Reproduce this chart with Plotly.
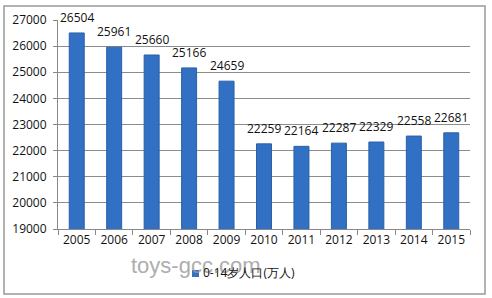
import plotly.graph_objects as go

years = ["2005", "2006", "2007", "2008", "2009", "2010", "2011", "2012", "2013", "2014", "2015"]
population = [26504, 25961, 25660, 25166, 24659, 22259, 22164, 22287, 22329, 22558, 22681]
series_name = "0-14岁人口(万人)"
y_ticks = [19000, 20000, 21000, 22000, 23000, 24000, 25000, 26000, 27000]
y_tick_text = [str(v) for v in y_ticks]

W, H = 492, 298
L, R, T, B = 58, 22, 20, 69
pw, ph = W - L - R, H - T - B
BAR_COLOR = "#3270c3"

def px(x):
    return (x - L) / pw

def py(y):
    return (H - B - y) / ph

fig = go.Figure()
fig.add_trace(go.Bar(
    x=years, y=population, name=series_name,
    marker=dict(color=BAR_COLOR, line=dict(color="#2a5fa8", width=1)),
    showlegend=False,
))

# value labels above the bars (category index positions on the category axis)
annotations = [dict(x=i, y=v, text=str(v), xref="x", yref="y", showarrow=False,
                    yanchor="bottom", yshift=5,
                    font=dict(family="Open Sans", size=12, color="#111"))
               for i, v in enumerate(population)]
# watermark
annotations.append(dict(text="toys-gcc.com", xref="paper", yref="paper", x=px(129), y=py(265),
                        xanchor="left", yanchor="middle",
                        showarrow=False, font=dict(family="Liberation Sans", size=22, color="#9a9a9a"),
                        opacity=0.8))
# legend text
annotations.append(dict(text=series_name, xref="paper", yref="paper", x=px(201), y=py(272),
                        xanchor="left", yanchor="middle", showarrow=False,
                        font=dict(family="Open Sans", size=12, color="#111")))

fig.update_layout(
    width=W, height=H,
    margin=dict(l=L, r=R, t=T, b=B),
    paper_bgcolor="white", plot_bgcolor="white",
    bargap=0.6,
    showlegend=False,
    font=dict(family="Open Sans", size=12, color="#111"),
    xaxis=dict(type="category", categoryorder="array", categoryarray=years,
               range=[-0.5, len(years) - 0.5],
               showline=True, linecolor="#888", linewidth=1, ticks="outside",
               tickcolor="#888", ticklen=5, tickson="boundaries",
               tickfont=dict(size=12), showgrid=False),
    yaxis=dict(range=[19000, 27000], tickvals=y_ticks, ticktext=y_tick_text, showline=True,
               linecolor="#888", linewidth=1, ticks="outside", tickcolor="#888", ticklen=4,
               showgrid=True, gridcolor="#8c8c8c", gridwidth=1, tickfont=dict(size=12),
               zeroline=False, ticklabelstandoff=4),
    shapes=[
        dict(type="rect", xref="paper", yref="paper",
             x0=px(4), x1=px(485), y0=py(294), y1=py(6),
             line=dict(color="#999", width=1.5), fillcolor="rgba(0,0,0,0)", layer="below"),
        dict(type="rect", xref="paper", yref="paper",
             x0=px(192), x1=px(199), y0=py(277), y1=py(270),
             line=dict(width=0), fillcolor=BAR_COLOR),
    ],
    annotations=annotations,
)

fig.write_html("out.html")
